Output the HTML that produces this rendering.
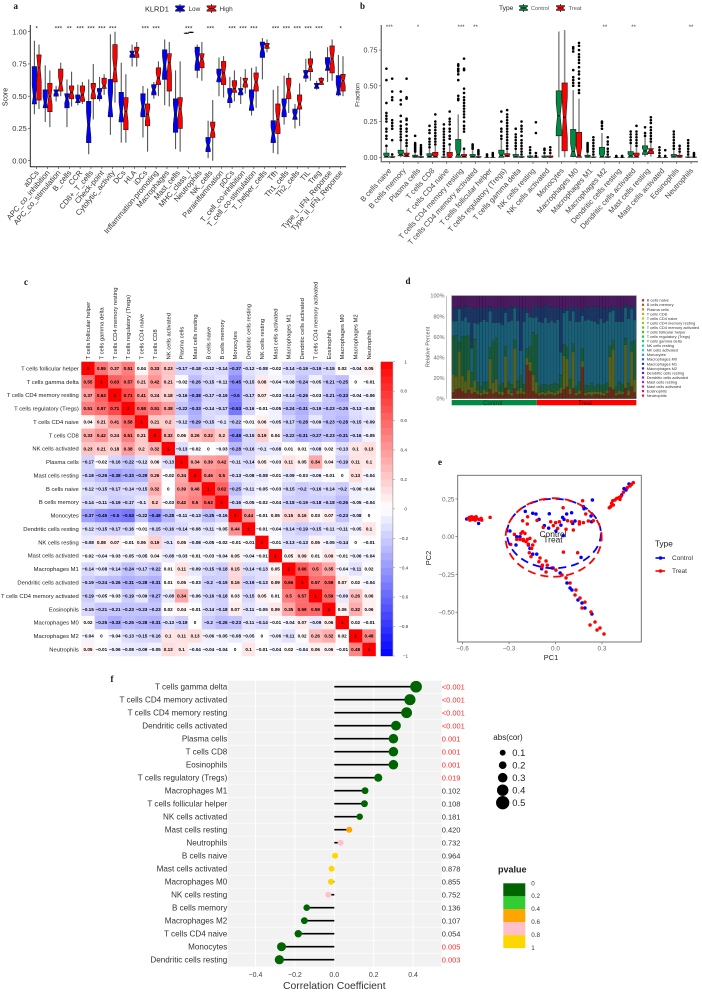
<!DOCTYPE html>
<html lang="en">
<head>
<meta charset="utf-8">
<title>Immune infiltration figure</title>
<style>
html,body{margin:0;padding:0;background:#fff;}
svg{display:block;font-family:"Liberation Sans",sans-serif;filter:blur(.3px);}
.letter{font-family:"Liberation Serif",serif;font-weight:bold;font-size:9px;fill:#111;}
</style>
</head>
<body>
<svg id="figure" xmlns="http://www.w3.org/2000/svg" width="702" height="992" viewBox="0 0 702 992">
<rect x="0" y="0" width="702" height="992" fill="#fff"/>
<text class="letter" x="13.5" y="9">a</text>
<text class="letter" x="360" y="9">b</text>
<text class="letter" x="24" y="285">c</text>
<text class="letter" x="405.5" y="284">d</text>
<text class="letter" x="438" y="465">e</text>
<text class="letter" x="110.5" y="682">f</text>
</svg>
<script>
/* ---------- Panel a data ---------- */
const aCategories = ["aDCs","APC_co_inhibition","APC_co_stimulation","B_cells","CCR","CD8+_T_cells","Check-point","Cytolytic_activity","DCs","HLA","iDCs","Inflammation-promoting","Macrophages","Mast_cells","MHC_class_I","Neutrophils","NK_cells","Parainflammation","pDCs","T_cell_co-inhibition","T_cell_co-stimulation","T_helper_cells","Tfh","Th1_cells","Th2_cells","TIL","Treg","Type_I_IFN_Reponse","Type_II_IFN_Reponse"];
const aLow = [[.36,.44,.50,.73,.93],[.30,.41,.45,.55,.74],[.46,.50,.53,.55,.58],[.26,.41,.48,.52,.63],[.43,.45,.47,.51,.59],[.05,.14,.28,.46,.63],[.46,.48,.52,.56,.65],[.20,.34,.44,.63,.98],[.14,.30,.38,.53,.76],[.73,.80,.83,.85,.90],[.18,.34,.42,.52,.58],[.48,.51,.55,.59,.61],[.43,.63,.74,.86,.94],[.09,.22,.36,.48,.70],[.985,.986,.988,.99,.995],[.64,.70,.79,.88,.90],[.02,.07,.12,.18,.31],[.50,.61,.65,.71,.80],[.41,.45,.50,.56,.65],[.44,.51,.54,.56,.65],[.35,.39,.45,.55,.72],[.63,.80,.87,.92,.95],[.06,.14,.21,.31,.55],[.28,.34,.41,.48,.66],[.25,.32,.35,.40,.44],[.61,.64,.67,.70,.79],[.55,.56,.58,.60,.62],[.61,.70,.73,.80,.88],[.50,.51,.55,.66,.82]];
const aHigh = [[.40,.47,.72,.82,.90],[.26,.38,.50,.60,.70],[.50,.54,.60,.71,.76],[.42,.48,.53,.58,.69],[.44,.46,.51,.58,.61],[.32,.48,.54,.60,.75],[.51,.56,.58,.64,.67],[.45,.61,.71,.90,1.0],[.14,.24,.38,.49,.67],[.73,.80,.84,.88,.92],[.07,.27,.36,.44,.56],[.50,.59,.64,.72,.77],[.42,.54,.76,.83,.92],[.07,.25,.40,.49,.77],[.99,.992,.995,.997,1.0],[.62,.72,.79,.83,.92],[0,.18,.24,.30,.47],[.49,.59,.68,.77,.81],[.46,.53,.56,.62,.70],[.52,.57,.61,.64,.71],[.41,.54,.61,.68,.73],[.84,.87,.89,.91,.94],[.05,.21,.32,.44,.58],[.37,.48,.55,.64,.68],[.27,.40,.44,.51,.60],[.62,.69,.73,.79,.85],[.59,.59,.61,.64,.65],[.62,.68,.79,.89,.94],[.50,.54,.62,.67,.81]];
const aSignificance = ["*","","***","**","***","***","***","***","","","***","***","","","***","","***","","***","***","***","","***","***","***","***","***","","*"];
const aTicks = [0,0.25,0.5,0.75,1];

/* ---------- Panel b data ---------- */
const bCategories = ["B cells naive","B cells memory","Plasma cells","T cells CD8","T cells CD4 naive","T cells CD4 memory resting","T cells CD4 memory activated","T cells follicular helper","T cells regulatory (Tregs)","T cells gamma delta","NK cells resting","NK cells activated","Monocytes","Macrophages M0","Macrophages M1","Macrophages M2","Dendritic cells resting","Dendritic cells activated","Mast cells resting","Mast cells activated","Eosinophils","Neutrophils"];
const bControl = [[0,0,.005,.03,.07],[0,.01,.02,.05,.11],[0,0,.003,.015,.03],[0,0,.005,.025,.06],[0,0,0,.003,.01],[0,0,.02,.125,.30],[0,0,.005,.02,.05],[0,0,0,0,0],[0,0,.015,.05,.12],[0,0,.003,.02,.05],[0,0,0,.01,.02],[0,0,0,.01,.02],[0,.15,.29,.465,.88],[0,.005,.04,.195,.47],[0,0,.002,.015,.03],[0,0,.003,.07,.17],[0,0,0,0,0],[0,0,.01,.04,.09],[.005,.02,.045,.08,.14],[0,0,0,0,0],[0,0,.002,.02,.05],[0,0,0,.003,.01]];
const bTreat = [[0,0,0,.005,.01],[0,.005,.015,.03,.07],[0,0,0,.005,.01],[0,0,.005,.035,.08],[0,0,0,.035,.08],[0,0,.005,.02,.05],[0,0,0,.005,.01],[0,0,0,0,0],[0,.005,.01,.025,.05],[0,0,0,.005,.01],[0,0,0,.002,.005],[0,0,0,.01,.02],[0,.045,.28,.52,.89],[0,0,.015,.175,.41],[0,0,0,.003,.01],[0,0,0,.005,.01],[0,0,0,0,0],[0,0,.005,.03,.07],[.005,.025,.05,.06,.1],[0,0,0,0,0],[0,0,.002,.015,.03],[0,0,0,.002,.005]];
const bOutliersControl = [[.08,.13,.15,.18,.2,.25,.27,.29,.31,.38,.54,.62],[.12,.14,.16,.18,.2,.22,.25,.29,.37,.4,.46],[.04,.05,.06,.07,.08,.09,.1,.15],[.07,.09,.11,.13,.17,.19,.22],[.02,.04,.06,.08,.1,.12,.14,.16,.18,.2,.23],[.4,.41,.43,.54,.58,.6,.61,.62,.64,.65],[.06,.07,.08,.09],[.01,.02],[.13,.15,.18,.2,.25,.32],[.06,.08,.1,.12,.14,.16,.2],[.03,.05,.07],[.03,.05,.06],[],[.5,.52,.54,.56,.61,.74,.76,.77],[.04,.05,.06,.07,.08,.09,.1],[.2,.22,.24,.25],[.005,.01],[.1,.12,.14,.16,.18],[.15,.17,.21],[.01,.03,.05,.07],[.06,.08,.1,.12,.14,.16,.18],[.02,.04,.06,.08,.1,.12]];
const bOutliersTreat = [[.02,.12,.2,.22,.24,.26,.4,.42,.46,.55],[.08,.1,.12,.15,.18,.2,.23,.26,.27,.41,.42,.55],[.02,.03,.04,.05,.06,.07,.085],[.09,.11,.13,.15,.17,.19,.21,.23,.25,.3],[.09,.13,.15,.18,.2,.23,.25,.27,.32],[.06,.18,.2,.22,.25,.28,.3,.32,.34,.36,.38,.4,.42,.45,.48,.61,.62,.69],[.02,.03,.04,.05],[.01,.02,.03],[.06,.08,.1,.12,.14,.16,.18,.2,.22,.24,.26,.28,.3,.33],[.02,.04,.06,.08,.1,.12,.15,.18,.2,.22,.25],[.01,.03,.17,.245],[.03,.05,.07],[],[.45,.47,.5,.52,.55,.58,.6,.63,.66,.68,.7,.72,.75,.78,.8],[.02,.04,.06,.08,.1,.12,.14],[.02,.04,.06,.09,.11,.14],[.005,.01],[.08,.1,.12,.14,.16,.18,.22],[.11,.13,.15,.17,.19,.21,.24,.26,.28],[.01,.05],[.04,.06,.08],[.01,.02,.03]];
const bSignificance = ["***","","*","","","***","**","","","","","","","","","**","","**","","","","**"];
const bTicks = [0,0.25,0.5,0.75];

/* ---------- Panel c data ---------- */
const cLabels = ["T cells follicular helper","T cells gamma delta","T cells CD4 memory resting","T cells regulatory (Tregs)","T cells CD4 naive","T cells CD8","NK cells activated","Plasma cells","Mast cells resting","B cells naive","B cells memory","Monocytes","Dendritic cells resting","NK cells resting","Mast cells activated","Macrophages M1","Dendritic cells activated","T cells CD4 memory activated","Eosinophils","Macrophages M0","Macrophages M2","Neutrophils"];
const cMatrix = [
[1,.55,.37,.51,.04,.33,.23,-.17,-.18,-.12,-.14,-.37,-.12,-.08,-.02,-.14,-.19,-.19,-.15,.02,-.04,.05],
[.55,1,.63,.57,.21,.42,.21,-.02,-.26,-.15,-.11,-.45,-.15,.08,-.04,-.08,-.24,-.05,-.21,-.25,0,-.01],
[.37,.63,1,.71,.41,.24,.18,-.16,-.38,-.17,-.19,-.5,-.17,.07,-.03,-.14,-.26,-.03,-.21,-.33,-.04,-.06],
[.51,.57,.71,1,.58,.51,.38,-.22,-.33,-.14,-.17,-.53,-.16,-.01,-.05,-.24,-.31,-.19,-.23,-.25,-.13,-.08],
[.04,.21,.41,.58,1,.21,.2,-.12,-.29,-.15,-.1,-.22,-.01,.06,-.05,-.17,-.28,-.09,-.23,-.28,-.15,-.09],
[.33,.42,.24,.51,.21,1,.32,.06,.26,.32,.2,-.48,-.15,.19,.04,-.22,-.31,-.27,-.23,-.31,-.16,-.05],
[.23,.21,.18,.38,.2,.32,1,-.13,-.02,0,-.03,-.28,-.16,-.1,-.08,.01,.01,-.08,.02,-.13,.1,.13],
[-.17,-.02,-.16,-.22,-.12,.06,-.13,1,.34,.39,.42,-.11,-.14,.05,-.03,.11,.05,.34,.04,-.19,.11,.1],
[-.18,-.26,-.38,-.33,-.29,.26,-.02,.34,1,.46,.5,-.13,-.08,-.08,-.01,-.09,-.03,-.06,-.01,0,.13,-.04],
[-.12,-.15,-.17,-.14,-.15,.32,0,.39,.46,1,.62,-.25,-.11,-.05,-.03,-.15,-.2,-.16,-.14,-.2,-.06,-.04],
[-.14,-.11,-.19,-.17,-.1,.2,-.03,.42,.5,.62,1,-.16,-.05,-.02,-.04,-.18,-.19,-.18,-.18,-.26,-.05,-.04],
[-.37,-.45,-.5,-.53,-.22,-.48,-.28,-.11,-.13,-.25,-.16,1,.44,-.01,.05,.15,.16,.03,.07,-.23,-.08,0],
[-.12,-.15,-.17,-.16,-.01,-.15,-.16,-.14,-.08,-.11,-.05,.44,1,-.01,-.04,-.14,-.19,-.15,-.11,-.11,-.05,.1],
[-.08,.08,.07,-.01,.06,.19,-.1,.05,-.08,-.05,-.02,-.01,-.01,1,-.01,-.13,-.13,.05,-.05,-.14,0,-.01],
[-.02,-.04,-.03,-.05,-.05,.04,-.08,-.03,-.01,-.03,-.04,.05,-.04,-.01,1,.05,.09,.01,.09,-.01,-.06,-.04],
[-.14,-.08,-.14,-.24,-.17,-.22,.01,.11,-.09,-.15,-.18,.15,-.14,-.13,.05,1,.66,.5,.35,-.04,-.11,.02],
[-.19,-.24,-.26,-.31,-.28,-.31,.01,.05,-.03,-.2,-.19,.16,-.19,-.13,.09,.66,1,.57,.59,.07,.02,-.04],
[-.19,-.05,-.03,-.19,-.09,-.27,-.08,.34,-.06,-.16,-.18,.03,-.15,.05,.01,.5,.57,1,.59,-.09,.26,.06],
[-.15,-.21,-.21,-.23,-.23,-.23,.02,.04,-.01,-.14,-.18,.07,-.11,-.05,.09,.35,.59,.59,1,.06,.32,.06],
[.02,-.25,-.33,-.25,-.28,-.31,-.13,-.19,0,-.2,-.26,-.23,-.11,-.14,-.01,-.04,.07,-.09,.06,1,.02,-.01],
[-.04,0,-.04,-.13,-.15,-.16,.1,.11,.13,-.06,-.05,-.08,-.05,0,-.06,-.11,.02,.26,.32,.02,1,.48],
[.05,-.01,-.06,-.08,-.09,-.05,.13,.1,-.04,-.04,-.04,0,.1,-.01,-.04,.02,-.04,.06,.06,-.01,.48,1]
];
const cBarTicks = [1,.8,.6,.4,.2,0,-.2,-.4,-.6,-.8,-1];

/* ---------- Panel d data ---------- */
const dBrown = [6,9,10,7,5,8,5,6,4,3, 4,4,9,5,6,4,3,11,4,3, 10,4,5,4,32,26,7,5,3,4, 3,4,4,3,4,5,9,12,4,10, 3,4,30,3,4,3,4,4,3,3, 5,11,9,3,4,4,10,3,12,6];
const dOlive = [17,13,36,15,12,18,7,12,4,3, 5,3,30,11,13,3,4,32,5,3, 38,4,6,3,7,9,16,12,3,3, 3,4,3,3,4,6,32,28,6,36, 3,4,6,3,3,4,3,3,4,3, 3,30,38,3,4,3,40,5,34,13];
const dGreen = [36,40,9,38,44,32,14,40,8,6, 7,9,11,42,40,6,8,10,7,8, 8,9,12,7,9,14,40,46,6,7, 8,5,7,9,6,12,11,12,9,8, 6,8,12,7,6,8,5,7,6,8, 7,10,9,6,8,7,6,7,9,38];
const dTeal = [14,14,32,15,18,12,24,16,56,62, 60,58,35,18,14,60,56,34,58,62, 30,58,24,60,34,28,14,18,62,60, 64,60,62,58,62,22,30,36,56,32, 62,58,31,62,64,60,62,58,64,60, 60,33,28,62,58,60,28,62,32,20];
const dNavy = [12,13,3,12,11,14,40,14,15,14, 12,14,4,15,14,15,17,4,14,13, 3,13,42,14,3,4,11,11,14,15, 12,15,13,15,12,42,4,3,13,4, 14,13,5,14,12,13,15,16,11,14, 13,4,3,14,14,13,3,12,3,13];
const dPurple = [12,12,10,12,10,10,12,12,12,11, 11,11,11,12,12,11,11,13,11,11, 9,11,12,11,13,16,10,10,11,11, 9,11,11,11,11,13,12,12,11,11, 11,12,14,10,11,11,10,11,11,12, 11,12,11,11,11,12,8,10,10,11];
const dBandNames = ["brown-band","olive-band","green-band","teal-band","navy-band","purple-band"];
const dControlCount = 27;
const dTicks = [0,20,40,60,80,100];
const dLegend = ["B cells naive","B cells memory","Plasma cells","T cells CD8","T cells CD4 naive","T cells CD4 memory resting","T cells CD4 memory activated","T cells follicular helper","T cells regulatory (Tregs)","T cells gamma delta","NK cells resting","NK cells activated","Monocytes","Macrophages M0","Macrophages M1","Macrophages M2","Dendritic cells resting","Dendritic cells activated","Mast cells resting","Mast cells activated","Eosinophils","Neutrophils"];

/* ---------- Panel e data ---------- */
const eControlPC1 = [-.573,-.496,-.55,-.195,-.147,-.126,-.04,-.106,-.072,-.044,.003,.035,.046,.055,.072,.104,.111,.126,.238,.18,.184,.229,.233,-.294,-.25,-.229,-.255,-.165,-.175,.05,-.147,-.121,.165,-.089,.474,.442,.455,.427,.416,-.016,.03,.074,.106,.145,.19,.235,.094,.171];
const eControlPC2 = [.117,.088,.128,.168,.155,.15,.152,.115,.073,.057,.038,.077,.128,.115,.15,.159,.088,.104,.243,.199,.185,.137,.099,.038,0,0,-.055,-.077,-.055,.007,-.115,-.115,-.137,-.212,.349,.318,.309,.276,.26,-.207,-.24,-.307,-.353,-.419,-.472,-.512,-.34,-.439];
const eTreatPC1 = [-.562,-.552,-.541,-.534,-.525,-.518,-.512,-.504,-.491,-.48,-.476,-.556,-.422,.175,.049,.195,-.18,-.212,-.182,-.119,-.079,-.031,.001,-.014,.014,.025,.078,.068,.115,.104,.154,.154,.18,.212,.244,-.212,-.223,-.197,-.265,-.25,-.229,-.208,-.182,-.165,-.19,-.208,-.175,-.133,-.147,-.154,-.169,-.289,-.158,.051,.143,-.107,-.085,-.053,-.087,.347,.356,.369,.373,.395,.41,.423,.438,.463,.481,.502,.362,.416,.384,.491,-.1,-.061,-.023,.003,.042,.094,.132,.158,.19,.126,.229,.255,.223,.268,.287,.313,.068,-.061,.171];
const eTreatPC2 = [.121,.11,.132,.115,.128,.11,.132,.117,.115,.121,.11,.128,.128,.238,.192,.15,.132,.106,.084,.108,.062,.099,.093,.073,.055,.099,.106,.049,.044,.099,.084,.099,.093,.104,.106,.033,.022,.022,.015,-.018,-.018,-.018,-.018,-.011,-.033,-.026,-.049,-.029,-.055,-.077,-.106,-.051,-.132,-.102,-.106,-.166,-.188,-.188,-.199,.192,.199,.238,.21,.254,.26,.269,.294,.325,.336,.358,.221,.247,.243,.347,-.141,-.161,-.207,-.221,-.254,-.307,-.353,-.406,-.433,-.386,-.499,-.565,-.585,-.618,-.605,-.644,-.273,-.234,-.472];
const eEllipseControl = [-.01,.021,.303,.23];
const eEllipseTreat = [-.012,-.005,.31,.26];
const eTicksX = [-.6,-.3,0,.3];
const eTicksY = [.25,0,-.25,-.5];

/* ---------- Panel f data ---------- */
const fCells = ["T cells gamma delta","T cells CD4 memory activated","T cells CD4 memory resting","Dendritic cells activated","Plasma cells","T cells CD8","Eosinophils","T cells regulatory (Tregs)","Macrophages M1","T cells follicular helper","NK cells activated","Mast cells resting","Neutrophils","B cells naive","Mast cells activated","Macrophages M0","NK cells resting","B cells memory","Macrophages M2","T cells CD4 naive","Monocytes","Dendritic cells resting"];
const fCor = [.415,.384,.367,.313,.30,.30,.30,.223,.156,.153,.129,.076,.032,.004,-.014,-.017,-.03,-.14,-.152,-.183,-.268,-.279];
const fPLabels = ["<0.001","<0.001","<0.001","<0.001","0.001","0.001","0.001","0.019","0.102","0.108","0.181","0.420","0.732","0.964","0.878","0.855","0.752","0.136","0.107","0.054","0.005","0.003"];
const fTicks = [-.4,-.2,0,.2,.4];
const fSizeLegend = [.1,.2,.3,.4,.5];
const fPBreaks = [0,.2,.4,.6,.8,1];

/* ---------- helpers ---------- */
const NS = "http://www.w3.org/2000/svg";
const root = document.getElementById("figure");
function add(parent, tag, attrs, text) {
  const el = document.createElementNS(NS, tag);
  for (const k in attrs) el.setAttribute(k, attrs[k]);
  if (text !== undefined) el.textContent = text;
  parent.appendChild(el);
  return el;
}
function panel(name) {
  const g = add(root, "g", {});
  
  
  return g;
}
function minus(v) { return String(v).replace("-", "\u2212"); }

function boxPath(x0, x1, s, yFn) {
  const iqr = s[3] - s[1];
  const ni = (x1 - x0) * 0.25;
  const hi = yFn(Math.min(s[3], s[2] + 0.3 * iqr));
  const lo = yFn(Math.max(s[1], s[2] - 0.3 * iqr));
  const m = yFn(s[2]), a = yFn(s[3]), b = yFn(s[1]);
  return `M${x0},${a}L${x1},${a}L${x1},${hi}L${x1 - ni},${m}L${x1},${lo}L${x1},${b}L${x0},${b}L${x0},${lo}L${x0 + ni},${m}L${x0},${hi}Z`;
}
function drawBox(g, cx, w, s, fill, yFn, whiskerColor, whiskerWidth) {
  const x0 = cx - w / 2, x1 = cx + w / 2;
  const whisker = add(g, "path", {
    d: `M${cx},${yFn(s[0])}L${cx},${yFn(s[4])}`,
    stroke: whiskerColor, "stroke-width": whiskerWidth, fill: "none"
  });
  
  
  const body = add(g, "path", { d: boxPath(x0, x1, s, yFn), fill: fill, stroke: "#1a1a1a", "stroke-width": 0.6 });
  
  
  const med = add(g, "line", {
    x1: x0 + (x1 - x0) * .25, x2: x1 - (x1 - x0) * .25, y1: yFn(s[2]), y2: yFn(s[2]),
    stroke: "#000", "stroke-width": 0.9
  });
  
  
}

/* ---------- Panel a ---------- */
(function () {
  const g = panel("panel-a-score-boxplot");
  const yA = v => 160.7 - v * 129;
  const xA = i => 36.7 + i * 10.857;
  const axisY = add(g, "line", { x1: 30.3, x2: 30.3, y1: 25, y2: 166.7, stroke: "#222", "stroke-width": 1 });
  
  
  const axisX = add(g, "line", { x1: 30, x2: 346, y1: 166.7, y2: 166.7, stroke: "#222", "stroke-width": 1 });
  
  
  aTicks.forEach(t => {
    add(g, "line", { x1: 28, x2: 30.3, y1: yA(t), y2: yA(t), stroke: "#333", "stroke-width": .6 });
    const lab = add(g, "text", { x: 26.8, y: yA(t) + 2.7, "text-anchor": "end", "font-size": 7.5, fill: "#333" }, t.toFixed(2));
    
    
  });
  const title = add(g, "text", { transform: "translate(7.5,97) rotate(-90)", "text-anchor": "middle", "font-size": 7, fill: "#222" }, "Score");
  
  
  aCategories.forEach((c, i) => {
    const x = xA(i);
    add(g, "line", { x1: x, x2: x, y1: 166.7, y2: 169, stroke: "#333", "stroke-width": .6 });
    const lab = add(g, "text", { transform: `translate(${x + 2.5},173) rotate(-50)`, "text-anchor": "end", "font-size": 7.6, fill: "#333" }, c);
    
    
    drawBox(g, x - 2.3, 4.5, aLow[i], "#0000ff", yA, "#555", 1.1);
    drawBox(g, x + 2.3, 4.5, aHigh[i], "#ff0000", yA, "#555", 1.1);
    if (aSignificance[i]) {
      const s = add(g, "text", { x: x, y: 30.5, "text-anchor": "middle", "font-size": 6.5, fill: "#222" }, aSignificance[i]);
      
      
    }
  });
  const legTitle = add(g, "text", { x: 145, y: 11.5, "font-size": 7.4, fill: "#222" }, "KLRD1");
  
  
  [["Low", 180, 188.5, "#0000ff"], ["High", 211.5, 219.5, "#ff0000"]].forEach(e => {
    drawBox(g, e[1], 9, [.0, .2, .5, .8, 1], e[3], v => 13 - v * 9, "#333", .9);
    const t = add(g, "text", { x: e[2], y: 11, "font-size": 6.4, fill: "#333" }, e[0]);
    
    
  });
})();

/* ---------- Panel b ---------- */
(function () {
  const g = panel("panel-b-fraction-boxplot");
  const yB = v => 157.3 - v * 143;
  const xB = i => 389.3 + i * 14.37;
  const axisY = add(g, "line", { x1: 381.3, x2: 381.3, y1: 25, y2: 161.7, stroke: "#777", "stroke-width": 1.4 });
  
  
  const axisX = add(g, "line", { x1: 380.6, x2: 698, y1: 161.7, y2: 161.7, stroke: "#777", "stroke-width": 1.4 });
  
  
  bTicks.forEach(t => {
    add(g, "line", { x1: 379, x2: 381, y1: yB(t), y2: yB(t), stroke: "#444", "stroke-width": .6 });
    const lab = add(g, "text", { x: 377.5, y: yB(t) + 2.6, "text-anchor": "end", "font-size": 7.2, fill: "#444" }, t.toFixed(2));
    
    
  });
  const title = add(g, "text", { transform: "translate(359.5,95) rotate(-90)", "text-anchor": "middle", "font-size": 6.6, fill: "#333" }, "Fraction");
  
  
  bCategories.forEach((c, i) => {
    const x = xB(i);
    add(g, "line", { x1: x, x2: x, y1: 161.7, y2: 164, stroke: "#444", "stroke-width": .6 });
    const lab = add(g, "text", { transform: `translate(${x + 2.5},171) rotate(-48)`, "text-anchor": "end", "font-size": 7.5, fill: "#444" }, c);
    
    
    drawBox(g, x - 2.9, 5.4, bControl[i], "#008b45", yB, "#888", 1.5);
    drawBox(g, x + 2.9, 5.4, bTreat[i], "#ff0000", yB, "#888", 1.5);
    bOutliersControl[i].forEach(v => {
      const p = add(g, "circle", { cx: x - 2.9, cy: yB(v), r: 1.3, fill: "#000" });
      
      
    });
    bOutliersTreat[i].forEach(v => {
      const p = add(g, "circle", { cx: x + 2.9, cy: yB(v), r: 1.3, fill: "#000" });
      
      
    });
    if (bSignificance[i]) {
      const s = add(g, "text", { x: x, y: 29, "text-anchor": "middle", "font-size": 6, fill: "#444" }, bSignificance[i]);
      
      
    }
  });
  const legTitle = add(g, "text", { x: 499, y: 10, "font-size": 6.6, fill: "#222" }, "Type");
  
  
  [["Control", 523.5, 531, "#008b45"], ["Treat", 560.5, 568.7, "#ff0000"]].forEach(e => {
    drawBox(g, e[1], 8, [0, .2, .5, .8, 1], e[3], v => 12 - v * 8, "#333", .9);
    const t = add(g, "text", { x: e[2], y: 9.8, "font-size": 5.6, fill: "#555" }, e[0]);
    
    
  });
})();

/* ---------- Panel c ---------- */
(function () {
  const g = panel("panel-c-correlation-heatmap");
  const left = 81.3, top = 361.7, cell = 294.4 / cLabels.length;
  const colour = v => {
    if (v >= 0) { const c = Math.round(255 * (1 - v)); return `rgb(255,${c},${c})`; }
    const c = Math.round(255 * (1 + v)); return `rgb(${c},${c},255)`;
  };
  cLabels.forEach((name, r) => {
    const rl = add(g, "text", { x: left - 2.5, y: top + cell * r + cell / 2 + 2, "text-anchor": "end", "font-size": 5.85, fill: "#222" }, name);
    
    
    const cl = add(g, "text", { transform: `translate(${left + cell * r + cell / 2 + 2},359.5) rotate(-90)`, "font-size": 5.85, fill: "#222" }, name);
    
    
    cMatrix[r].forEach((v, c) => {
      const x = left + cell * c, y = top + cell * r;
      const rect = add(g, "rect", { x: x, y: y, width: cell + .1, height: cell + .1, fill: colour(v) });
      
      
      const t = add(g, "text", { x: x + cell / 2, y: y + cell / 2 + 1.6, "text-anchor": "middle", "font-size": 4.6, "font-weight": "bold", fill: "#000" }, minus(v));
      
      
    });
  });
  const yBar = v => 508.85 - v * 147.15;
  for (let k = 0; k < 40; k++) {
    const v = 1 - (k + .5) / 20;
    const band = add(g, "rect", { x: 380.7, y: yBar(1 - k / 20), width: 12, height: 294.3 / 40 + .2, fill: colour(v) });
    
    
  }
  const frame = add(g, "line", { x1: 392.9, x2: 392.9, y1: 361.7, y2: 656, stroke: "#888", "stroke-width": .6 });
  
  
  cBarTicks.forEach(v => {
    add(g, "line", { x1: 392.9, x2: 395, y1: yBar(v), y2: yBar(v), stroke: "#888", "stroke-width": .5 });
    const t = add(g, "text", { x: v === 1 || v === 0 ? 405.7 : (v === -1 ? 405.5 : 403.7), y: yBar(v) + 1.6, "text-anchor": "middle", "font-size": 4.6, fill: "#333" }, minus(v));
    
    
  });
})();

/* ---------- Panel d ---------- */
(function () {
  const g = panel("panel-d-stacked-bars");
  const bands = [dBrown, dOlive, dGreen, dTeal, dNavy, dPurple];
  const bandColours = ["#6b2a18", "#56621a", "#175a3a", "#195f78", "#1a3566", "#4c1a62"];
  const n = dBrown.length, left = 451.7, right = 636.3, y100 = 295.7, y0 = 398.7;
  const xD = i => left + (right - left) * i / n;
  const yD = v => y0 - (y0 - y100) * v / 100;
  for (let i = 0; i < n; i++) {
    let total = 0;
    bands.forEach(b => { total += b[i]; });
    let acc = 0;
    bands.forEach((b, k) => {
      const share = b[i] / total * 100;
      const seg = add(g, "rect", {
        x: xD(i), y: yD(acc + share), width: (right - left) / n + .1, height: yD(acc) - yD(acc + share),
        fill: bandColours[k], stroke: "#0a0a0a", "stroke-opacity": .35, "stroke-width": .5
      });
      
      
      acc += share;
    });
  }
  const frame = add(g, "rect", { x: left, y: y100, width: right - left, height: y0 - y100, fill: "none", stroke: "#777", "stroke-width": .5 });
  
  
  const ctrl = add(g, "rect", { x: left, y: 400, width: xD(dControlCount) - left + 2, height: 5.3, fill: "#008b45" });
  
  
  const trt = add(g, "rect", { x: xD(dControlCount) + 2, y: 400, width: right - xD(dControlCount) - 2, height: 5.3, fill: "#ff0000" });
  
  
  const cT = add(g, "text", { x: 492.7, y: 405, "text-anchor": "middle", "font-size": 6, fill: "#0b3d20" }, "Control");
  
  
  const tT = add(g, "text", { x: 585, y: 405, "text-anchor": "middle", "font-size": 6, fill: "#5a0000" }, "Treat");
  
  
  add(g, "line", { x1: 446.5, x2: 446.5, y1: y100, y2: y0, stroke: "#999", "stroke-width": .6 });
  dTicks.forEach(t => {
    const lab = add(g, "text", { x: 444.5, y: yD(t) + 2, "text-anchor": "end", "font-size": 5.5, fill: "#666" }, t + "%");
    
    
  });
  const title = add(g, "text", { transform: "translate(429.5,347) rotate(-90)", "text-anchor": "middle", "font-size": 5.5, fill: "#555" }, "Relative Percent");
  
  
  dLegend.forEach((name, i) => {
    const y = 300.3 + i * 4.54;
    const sw = add(g, "rect", { x: 641.9, y: y - 1.1, width: 2.2, height: 2.2, fill: `hsl(${Math.round(i * 360 / dLegend.length)},75%,45%)` });
    
    
    const t = add(g, "text", { x: 646.7, y: y + 1.4, "font-size": 3.95, fill: "#333" }, name);
    
    
  });
})();

/* ---------- Panel e ---------- */
(function () {
  const g = panel("panel-e-pca-scatter");
  const xE = v => 555.5 + v * 155;
  const yE = v => 536.7 - v * 151;
  const frame = add(g, "rect", { x: 457.7, y: 475.3, width: 183.6, height: 166.7, fill: "#fff", stroke: "#666", "stroke-width": .9 });
  
  
  eTicksX.forEach(t => {
    add(g, "line", { x1: xE(t), x2: xE(t), y1: 642, y2: 644.2, stroke: "#555", "stroke-width": .6 });
    const lab = add(g, "text", { x: xE(t), y: 650.5, "text-anchor": "middle", "font-size": 6.4, fill: "#666" }, minus(t.toFixed(1)));
    
    
  });
  eTicksY.forEach(t => {
    add(g, "line", { x1: 455.5, x2: 457.7, y1: yE(t), y2: yE(t), stroke: "#555", "stroke-width": .6 });
    const lab = add(g, "text", { x: 454.5, y: yE(t) + 2.3, "text-anchor": "end", "font-size": 6.4, fill: "#666" }, minus(t.toFixed(2)));
    
    
  });
  const xt = add(g, "text", { x: 551, y: 660, "text-anchor": "middle", "font-size": 7.4, fill: "#222" }, "PC1");
  
  
  const yt = add(g, "text", { transform: "translate(431,558) rotate(-90)", "text-anchor": "middle", "font-size": 7.4, fill: "#222" }, "PC2");
  
  
  eControlPC1.forEach((v, i) => {
    const p = add(g, "circle", { cx: xE(v), cy: yE(eControlPC2[i]), r: 1.75, fill: "#0000ff" });
    
    
  });
  eTreatPC1.forEach((v, i) => {
    const p = add(g, "circle", { cx: xE(v), cy: yE(eTreatPC2[i]), r: 1.75, fill: "#ff0000" });
    
    
  });
  const ec = add(g, "ellipse", {
    cx: xE(eEllipseControl[0]), cy: yE(eEllipseControl[1]),
    rx: eEllipseControl[2] * 155, ry: eEllipseControl[3] * 151,
    fill: "none", stroke: "#0000ff", "stroke-width": 1.8, "stroke-dasharray": "8 5"
  });
  
  
  const et = add(g, "ellipse", {
    cx: xE(eEllipseTreat[0]), cy: yE(eEllipseTreat[1]),
    rx: eEllipseTreat[2] * 155, ry: eEllipseTreat[3] * 151,
    fill: "none", stroke: "#ff0000", "stroke-width": 1.8, "stroke-dasharray": "8 5", "stroke-dashoffset": 4
  });
  
  
  const cl = add(g, "text", { x: 553, y: 537, "text-anchor": "middle", "font-size": 8.4, fill: "#222" }, "Control");
  
  
  const tl = add(g, "text", { x: 553, y: 542.5, "text-anchor": "middle", "font-size": 8.4, fill: "#222" }, "Treat");
  
  
  const legT = add(g, "text", { x: 655, y: 546.5, "font-size": 8.2, fill: "#222" }, "Type");
  
  
  [["Control", 558, "#0000ff"], ["Treat", 571, "#ff0000"]].forEach(e => {
    add(g, "line", { x1: 655.5, x2: 665, y1: e[1], y2: e[1], stroke: e[2], "stroke-width": 1.6 });
    add(g, "circle", { cx: 660.5, cy: e[1], r: 1.8, fill: e[2] });
    const t = add(g, "text", { x: 672, y: e[1] + 2.2, "font-size": 6.5, fill: "#333" }, e[0]);
    
    
  });
})();

/* ---------- Panel f ---------- */
(function () {
  const g = panel("panel-f-lollipop");
  const xF = v => 334.3 + v * 197;
  const yF = i => 686.7 + i * 13;
  const bg = add(g, "rect", { x: 227.7, y: 680.7, width: 214, height: 286, fill: "#f2f2f2" });
  
  
  fTicks.forEach(t => {
    add(g, "line", { x1: xF(t), x2: xF(t), y1: 680.7, y2: 966.7, stroke: "#fff", "stroke-width": .9 });
    const lab = add(g, "text", { x: xF(t), y: 977, "text-anchor": "middle", "font-size": 7, fill: "#444" }, minus(t.toFixed(1)));
    
    
  });
  fCells.forEach((c, i) => {
    if (i > 0) add(g, "line", { x1: 227.7, x2: 441.7, y1: yF(i) - 6.5, y2: yF(i) - 6.5, stroke: "#fff", "stroke-width": .7 });
  });
  const colourOf = p => p < .2 ? "#006400" : p < .4 ? "#32cd32" : p < .6 ? "#ffa500" : p < .8 ? "#ffc0cb" : "#ffd700";
  fCells.forEach((c, i) => {
    const lab = add(g, "text", { x: 227.3, y: yF(i) + 2.6, "text-anchor": "end", "font-size": 8.1, fill: "#333" }, c);
    
    
    const seg = add(g, "line", { x1: xF(0), x2: xF(fCor[i]), y1: yF(i), y2: yF(i), stroke: "#000", "stroke-width": 1.6 });
    
    
    const numericP = parseFloat(fPLabels[i].replace("<", ""));
    const dot = add(g, "circle", { cx: xF(fCor[i]), cy: yF(i), r: Math.max(3, 2 + 9.3 * Math.abs(fCor[i])), fill: colourOf(numericP) });
    
    
    const pt = add(g, "text", { x: 441.7, y: yF(i) + 2.7, "font-size": 7.5, fill: numericP < .05 ? "#ff2a2a" : "#333" }, fPLabels[i]);
    
    
  });
  const xt = add(g, "text", { x: 334.3, y: 989, "text-anchor": "middle", "font-size": 10.4, fill: "#333" }, "Correlation Coefficient");
  
  

  const sizeTitle = add(g, "text", { x: 493.3, y: 740, "font-size": 8, fill: "#222" }, "abs(cor)");
  
  
  fSizeLegend.forEach((v, i) => {
    const y = 752.7 + i * 12.5;
    const d = add(g, "circle", { cx: 502.7, cy: y, r: 2 + 9.3 * v, fill: "#000" });
    
    
    const t = add(g, "text", { x: 512.3, y: y + 3.4, "font-size": 9.4, fill: "#222" }, v.toFixed(1));
    
    
  });
  const pTitle = add(g, "text", { x: 498, y: 872.5, "font-size": 9, "font-weight": "bold", fill: "#222" }, "pvalue");
  
  
  const yP = v => 883.3 + v * 64.7;
  fPBreaks.forEach((b, i) => {
    if (i < fPBreaks.length - 1) {
      const sw = add(g, "rect", { x: 503.3, y: yP(b), width: 22, height: yP(fPBreaks[i + 1]) - yP(b) + .1, fill: colourOf(b + .01) });
      
      
    }
    const t = add(g, "text", { x: 531.3, y: yP(b) + 2, "font-size": 6.3, fill: "#333" }, String(b));
    
    
  });
})();
</script>
</body>
</html>
